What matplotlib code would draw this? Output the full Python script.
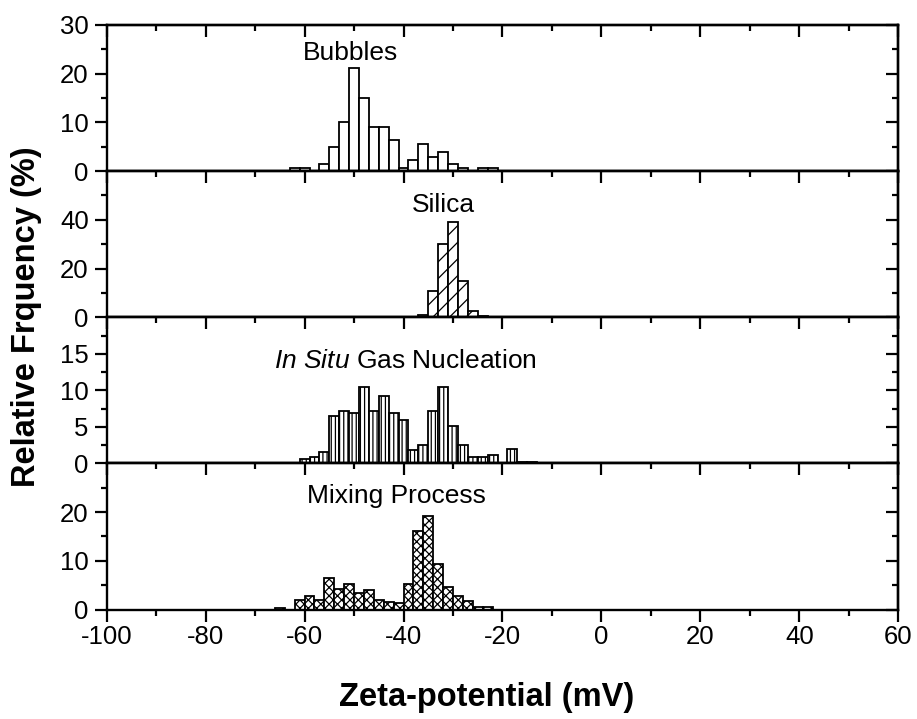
import numpy as np
import matplotlib
matplotlib.use("Agg")
import matplotlib.pyplot as plt

plt.rcParams['font.family'] = ['Liberation Sans', 'DejaVu Sans']
plt.rcParams['mathtext.fontset'] = 'custom'
plt.rcParams['mathtext.rm'] = 'Liberation Sans'
plt.rcParams['mathtext.it'] = 'Liberation Sans:italic'
plt.rcParams['axes.unicode_minus'] = False
plt.rcParams['hatch.color'] = 'black'
plt.rcParams['hatch.linewidth'] = 0.9

# Zeta-potential histogram data (bin centres in mV, relative frequency in %)
bubbles_mv = np.arange(-62, -21, 2)
bubbles_freq = [0.6, 0.6, 0, 1.5, 5.0, 10.0, 21.2, 15.0, 9.0, 9.0, 6.3,
                0.6, 2.2, 5.5, 3.0, 3.9, 1.5, 0.6, 0, 0.6, 0.6]

silica_mv = np.arange(-38, -23, 2)
silica_freq = [0.3, 1.1, 10.6, 30.0, 39.2, 14.8, 2.6, 0.4]

insitu_mv = np.arange(-60, -13, 2)
insitu_freq = [0.55, 0.85, 1.5, 6.5, 7.2, 6.9, 10.4, 7.2, 9.2, 6.9, 5.9, 1.85,
               2.5, 7.2, 10.4, 5.1, 2.5, 0.85, 0.85, 1.15, 0, 1.9, 0.15, 0.15]

mixing_mv = np.arange(-65, -22, 2)
mixing_freq = [0.4, 0, 1.9, 2.8, 1.85, 6.4, 4.3, 5.2, 3.3, 4.05, 1.85, 1.6,
               1.25, 5.2, 16.2, 19.1, 9.4, 4.6, 2.75, 1.65, 0.55, 0.55]

panel_titles = ["Bubbles", "Silica", r"$\mathit{In\ Situ}$ Gas Nucleation", "Mixing Process"]
x_ticks = np.arange(-100, 61, 20)
x_minor = np.arange(-90, 60, 20)

TICK_FS = 18.5
LBL_FS = 19
AX_FS = 23.5

fig = plt.figure(figsize=(9.17, 7.19), dpi=100)
W, H = 917, 719
left_px, right_px = 106.7, 898.3
top_px, bottom_px = 25.0, 609.5
ph = (bottom_px - top_px) / 4

panels = [
    dict(x=bubbles_mv, y=bubbles_freq, hatch=None, ylim=30, major=[0, 10, 20, 30],
         minor=[5, 15, 25], tx=-50.8, ty=22.9),
    dict(x=silica_mv, y=silica_freq, hatch='//', ylim=60, major=[0, 20, 40],
         minor=[10, 30, 50], tx=-32.0, ty=43.4),
    dict(x=insitu_mv, y=insitu_freq, hatch='||||', ylim=20, major=[0, 5, 10, 15],
         minor=[2.5, 7.5, 12.5, 17.5], tx=-39.6, ty=13.1),
    dict(x=mixing_mv, y=mixing_freq, hatch='xxxx', ylim=30, major=[0, 10, 20],
         minor=[5, 15, 25], tx=-41.4, ty=21.8),
]

for i, p in enumerate(panels):
    ax_top = top_px + i * ph
    ax = fig.add_axes([left_px / W, 1 - (ax_top + ph) / H,
                       (right_px - left_px) / W, ph / H])
    ax.bar(p['x'], p['y'], width=2, color='white', edgecolor='black',
           linewidth=1.3, hatch=p['hatch'], zorder=2)
    ax.set_xlim(-100, 60)
    ax.set_ylim(0, p['ylim'])
    ax.set_xticks(x_ticks)
    ax.set_xticks(x_minor, minor=True)
    ax.set_yticks(p['major'])
    ax.set_yticks(p['minor'], minor=True)
    for s in ax.spines.values():
        s.set_linewidth(1.7)
    ax.tick_params(axis='both', which='major', direction='out', length=8.5,
                   width=1.6, labelsize=TICK_FS, top=False, right=False)
    ax.tick_params(axis='both', which='minor', direction='out', length=4.5,
                   width=1.6, top=False, right=False)
    ax.tick_params(axis='x', which='major', pad=3)
    ax.tick_params(axis='y', which='major', pad=4.5)
    if i < 3:
        ax.tick_params(axis='x', which='both', labelbottom=False)

    # inward ticks on the top and right edges
    sx = ax.secondary_xaxis('top')
    sx.set_xticks(x_ticks)
    sx.set_xticks(x_minor, minor=True)
    sx.tick_params(which='major', direction='in', length=8.5, width=1.6, labeltop=False)
    sx.tick_params(which='minor', direction='in', length=4.5, width=1.6)
    sx.spines['top'].set_linewidth(1.7)
    sy = ax.secondary_yaxis('right')
    sy.set_yticks(p['major'])
    sy.set_yticks(p['minor'], minor=True)
    sy.tick_params(which='major', direction='in', length=8.5, width=1.6, labelright=False)
    sy.tick_params(which='minor', direction='in', length=4.5, width=1.6)
    sy.spines['right'].set_linewidth(1.7)

    ax.text(p['tx'], p['ty'], panel_titles[i], ha='center', va='baseline',
            fontsize=LBL_FS, zorder=3)

fig.text(486.7 / W, 1 - 706 / H, "Zeta-potential (mV)", ha='center', va='baseline',
         fontsize=AX_FS, fontweight='bold')
fig.text(27 / W, 1 - 317 / H, "Relative Frquency (%)", ha='center', va='center',
         rotation=90, fontsize=AX_FS, fontweight='bold')

fig.savefig("out.png", dpi=100)
